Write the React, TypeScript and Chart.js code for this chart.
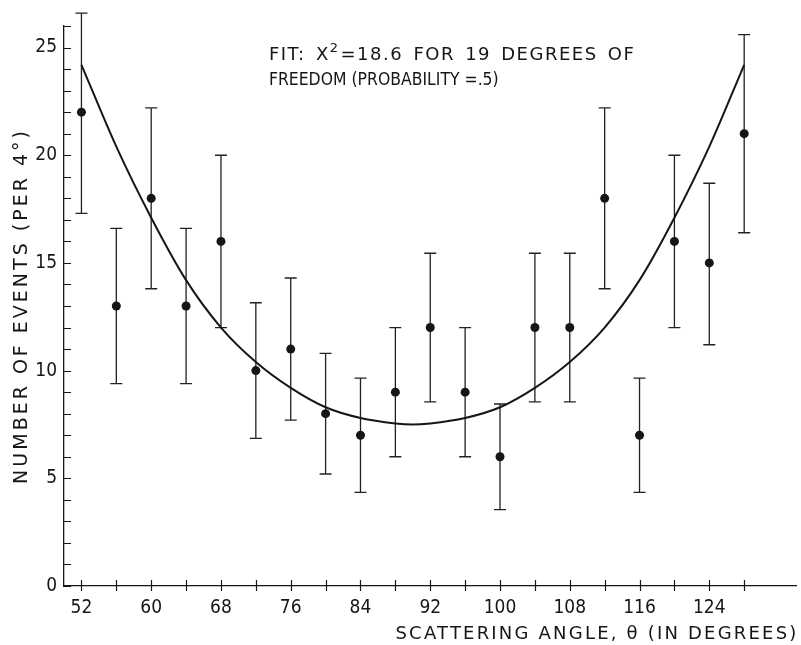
import React, { useEffect, useRef } from "react";
import { Chart, registerables } from "chart.js";

Chart.register(...registerables);

// ---- data ----
const angles = [52, 56, 60, 64, 68, 72, 76, 80, 84, 88, 92, 96, 100, 104, 108, 112, 116, 120, 124, 128];
const counts = [22, 13, 18, 13, 16, 10, 11, 8, 7, 9, 12, 9, 6, 12, 12, 18, 7, 16, 15, 21];
const errLow = [17.3, 9.4, 13.8, 9.4, 12, 6.85, 7.7, 5.2, 4.35, 6, 8.55, 6, 3.55, 8.55, 8.55, 13.8, 4.35, 12, 11.2, 16.4];
const errHigh = [26.6, 16.6, 22.2, 16.6, 20, 13.15, 14.3, 10.8, 9.65, 12, 15.45, 12, 8.45, 15.45, 15.45, 22.2, 9.65, 20, 18.7, 25.6];

const fitAngles = [52, 56, 60, 64, 68, 72, 76, 80, 84, 88, 90, 92, 96, 100, 104, 108, 112, 116, 120, 124, 128];
const fitValues = [24.2, 20.4, 17.1, 14.2, 12.0, 10.4, 9.2, 8.3, 7.8, 7.55, 7.5, 7.55, 7.8, 8.3, 9.2, 10.4, 12.0, 14.2, 17.1, 20.4, 24.2];

const xTickValues = [52, 56, 60, 64, 68, 72, 76, 80, 84, 88, 92, 96, 100, 104, 108, 112, 116, 120, 124, 128];
const xLabelValues = [52, 60, 68, 76, 84, 92, 100, 108, 116, 124];
const yLabelValues = [0, 5, 10, 15, 20, 25];

const xTitle = "SCATTERING ANGLE, \u03B8 (IN DEGREES)";
const yTitle = "NUMBER OF EVENTS (PER 4\u00B0)";
const noteLine1a = "FIT: X";
const noteSup = "2";
const noteLine1b = "=18.6 FOR 19 DEGREES OF";
const noteLine2 = "FREEDOM (PROBABILITY =.5)";
const noteAnchor = { x: 73.5, y: 24.4 };

const INK = "#161616";
const TICK_FONT = "'DejaVu Sans Condensed', 'Liberation Sans Narrow', 'Liberation Sans', sans-serif";
const TEXT_FONT = "'DejaVu Sans', 'Liberation Sans', sans-serif";

const decorPlugin = {
  id: "decor",
  beforeDatasetsDraw(chart: any) {
    const { ctx } = chart;
    const xs = chart.scales.x;
    const ys = chart.scales.y;
    ctx.save();
    ctx.strokeStyle = "#222";
    ctx.lineWidth = 1.3;
    for (let i = 0; i < angles.length; i++) {
      const px = xs.getPixelForValue(angles[i]);
      const lo = ys.getPixelForValue(errLow[i]);
      const hi = ys.getPixelForValue(errHigh[i]);
      ctx.beginPath();
      ctx.moveTo(px, lo);
      ctx.lineTo(px, hi);
      ctx.moveTo(px - 6, lo);
      ctx.lineTo(px + 6, lo);
      ctx.moveTo(px - 6, hi);
      ctx.lineTo(px + 6, hi);
      ctx.stroke();
    }
    ctx.restore();
  },
  afterDraw(chart: any) {
    const { ctx, chartArea } = chart;
    const xs = chart.scales.x;
    const ys = chart.scales.y;
    ctx.save();
    ctx.strokeStyle = INK;
    ctx.lineWidth = 1.2;
    ctx.beginPath();
    for (const t of xs.ticks) {
      const px = Math.round(xs.getPixelForValue(t.value)) + 0.5;
      ctx.moveTo(px, chartArea.bottom - 6);
      ctx.lineTo(px, chartArea.bottom + 5);
    }
    for (const t of ys.ticks) {
      const py = Math.round(ys.getPixelForValue(t.value)) + 0.5;
      ctx.moveTo(chartArea.left, py);
      ctx.lineTo(chartArea.left + 7, py);
    }
    ctx.stroke();

    ctx.fillStyle = INK;
    const c = ctx as any;

    // annotation, line 1
    const ax = xs.getPixelForValue(noteAnchor.x);
    const ay = ys.getPixelForValue(noteAnchor.y);
    ctx.textBaseline = "alphabetic";
    ctx.textAlign = "left";
    c.letterSpacing = "1.5px";
    c.wordSpacing = "3px";
    ctx.font = `18px ${TEXT_FONT}`;
    ctx.fillText(noteLine1a, ax, ay);
    const w = ctx.measureText(noteLine1a).width;
    ctx.font = `13px ${TEXT_FONT}`;
    ctx.fillText(noteSup, ax + w, ay - 8);
    const w2 = ctx.measureText(noteSup).width;
    ctx.font = `18px ${TEXT_FONT}`;
    ctx.fillText(noteLine1b, ax + w + w2 + 1, ay);
    // line 2 (more compact lettering in the original)
    c.letterSpacing = "0px";
    c.wordSpacing = "0px";
    ctx.save();
    ctx.translate(ax, ay + 25);
    ctx.scale(0.87, 1);
    ctx.fillText(noteLine2, 0, 0);
    ctx.restore();

    // x axis title, right aligned
    c.letterSpacing = "2.2px";
    c.wordSpacing = "0px";
    ctx.font = `18px ${TEXT_FONT}`;
    ctx.textAlign = "right";
    ctx.textBaseline = "alphabetic";
    ctx.fillText(xTitle, chartArea.right + 2, 639);

    // y axis title, rotated
    c.letterSpacing = "3px";
    ctx.font = `19px ${TEXT_FONT}`;
    ctx.save();
    ctx.translate(27, (chartArea.top + chartArea.bottom) / 2);
    ctx.rotate(-Math.PI / 2);
    ctx.textAlign = "center";
    ctx.fillText(yTitle, 0, 0);
    ctx.restore();
    ctx.restore();
  },
};

export default function App() {
  const canvasRef = useRef<HTMLCanvasElement | null>(null);

  useEffect(() => {
    if (!canvasRef.current) return;
    const chart = new Chart(canvasRef.current, {
      type: "scatter",
      data: {
        datasets: [
          {
            type: "line",
            label: "fit",
            data: fitAngles.map((a, i) => ({ x: a, y: fitValues[i] })),
            borderColor: INK,
            borderWidth: 2,
            pointRadius: 0,
            cubicInterpolationMode: "monotone",
            fill: false,
          } as any,
          {
            type: "scatter",
            label: "events",
            data: angles.map((a, i) => ({ x: a, y: counts[i] })),
            backgroundColor: INK,
            borderColor: INK,
            pointRadius: 4.5,
            pointBorderWidth: 0,
          },
        ],
      },
      options: {
        animation: false,
        responsive: true,
        maintainAspectRatio: false,
        layout: { padding: { top: 26, right: 4, left: 0, bottom: 0 } },
        plugins: {
          legend: { display: false },
          tooltip: { enabled: false },
          title: { display: false },
        },
        scales: {
          x: {
            type: "linear",
            position: "bottom",
            min: 50,
            max: 134,
            afterBuildTicks: (scale: any) => {
              scale.ticks = xTickValues.map((v) => ({ value: v }));
            },
            afterFit: (scale: any) => {
              scale.height = 59;
            },
            ticks: {
              autoSkip: false,
              maxRotation: 0,
              padding: 11,
              color: INK,
              font: { family: TICK_FONT, size: 19, weight: "condensed" as any },
              callback: (v: any) => (xLabelValues.includes(Number(v)) ? String(v) : ""),
            },
            grid: { display: true, drawOnChartArea: false, drawTicks: false, color: "rgba(0,0,0,0)" },
            border: { display: true, color: INK, width: 1.3 },
            title: { display: false },
          },
          y: {
            type: "linear",
            min: 0,
            max: 26,
            afterFit: (scale: any) => {
              scale.width = 64;
            },
            ticks: {
              stepSize: 1,
              autoSkip: false,
              padding: 7,
              color: INK,
              font: { family: TICK_FONT, size: 19, weight: "condensed" as any },
              callback: (v: any) => (yLabelValues.includes(Number(v)) ? String(v) : ""),
            },
            grid: { display: true, drawOnChartArea: false, drawTicks: false, color: "rgba(0,0,0,0)" },
            border: { display: true, color: INK, width: 1.3 },
            title: { display: false },
          },
        },
      },
      plugins: [decorPlugin],
    });
    return () => chart.destroy();
  }, []);

  return (
    <div style={{ position: "fixed", left: 0, top: 0, width: 801, height: 645, background: "#fff" }}>
      <canvas ref={canvasRef} />
    </div>
  );
}
